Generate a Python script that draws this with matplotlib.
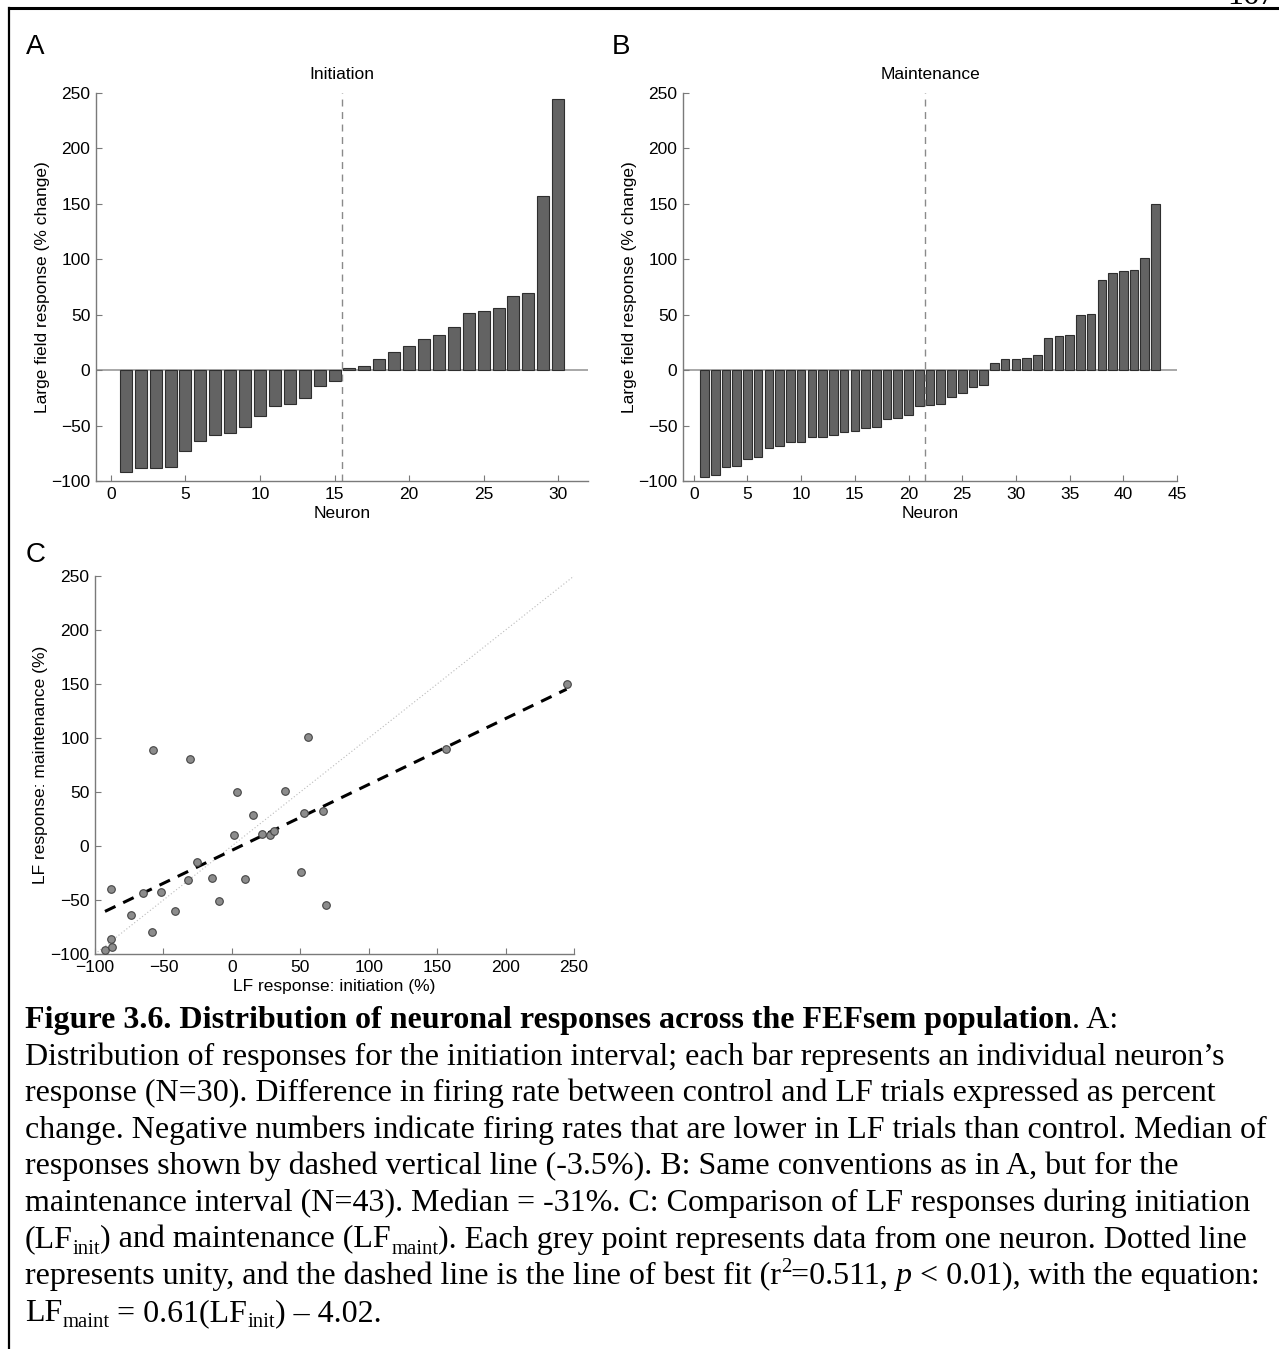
import numpy as np
import matplotlib
matplotlib.use("Agg")
import matplotlib.pyplot as plt
from matplotlib.lines import Line2D
from matplotlib.transforms import IdentityTransform

W, H = 1279, 1349

# panel A: initiation interval, % change per neuron (sorted)
init_resp = [-92.3, -88.7, -88.7, -87.8, -73.0, -64.3, -58.2, -57.0, -51.6, -41.0,
             -32.6, -30.2, -25.0, -14.2, -9.4, 2.1, 3.9, 10.3, 16.0, 22.0,
             28.4, 31.4, 39.2, 51.3, 53.4, 56.1, 67.3, 69.4, 157.5, 244.6]
init_median_pos = 15.5

# panel B: maintenance interval
maint_resp = [-96.8, -94.7, -87.8, -86.9, -80.5, -78.7, -70.6, -68.8, -64.6, -64.6,
              -60.3, -60.3, -58.5, -55.5, -54.6, -52.5, -51.6, -44.3, -43.1, -40.4,
              -32.6, -31.7, -30.5, -24.1, -20.8, -15.1, -13.3, 6.6, 10.0, 10.0,
              10.9, 13.9, 29.0, 30.8, 32.0, 50.1, 51.0, 81.1, 87.2, 89.0,
              89.9, 100.8, 150.2]
maint_median_pos = 21.5

# panel C: per-neuron initiation vs maintenance
sc_init = [-92.7, -87.6, -88.5, -88.5, -73.7, -58.5, -64.6, -51.7, -41.5, -57.6,
           -30.5, -32.4, -25.6, -14.4, -9.3, 9.5, 1.5, 3.7, 15.6, 21.7,
           27.8, 30.5, 38.8, 52.7, 55.6, 50.7, 66.6, 68.8, 156.8, 244.6]
sc_maint = [-96.0, -93.9, -85.9, -39.9, -64.0, -80.0, -43.6, -42.6, -60.0, 89.0,
            81.0, -31.9, -14.9, -29.7, -50.9, -30.9, 10.1, 50.2, 29.0, 11.4,
            10.1, 14.1, 51.1, 31.0, 101.0, -24.1, 32.3, -55.0, 90.0, 150.0]
fit_slope, fit_icpt = 0.61, -4.02

plt.rcParams["font.family"] = ["Liberation Sans", "DejaVu Sans"]
plt.rcParams["font.size"] = 12.5

SPINE = "#7a7a7a"
BAR = "#636363"
BAR_EDGE = "#2e2e2e"

fig = plt.figure(figsize=(W / 100, H / 100), dpi=100)


def px_axes(x0, y0, x1, y1):
    # pixel box (top-left origin) -> axes
    return fig.add_axes([x0 / W, 1 - y1 / H, (x1 - x0) / W, (y1 - y0) / H])


def style(ax):
    for s in ["top", "right"]:
        ax.spines[s].set_visible(False)
    for s in ["left", "bottom"]:
        ax.spines[s].set_color(SPINE)
        ax.spines[s].set_linewidth(1.0)
    ax.tick_params(direction="in", length=4, width=0.8, color=SPINE,
                   labelsize=12.5, pad=4)


def bar_panel(ax, vals, med, xmax, xticks, title):
    n = np.arange(1, len(vals) + 1)
    ax.axhline(0, color="#999999", lw=1.2, zorder=1)
    ax.bar(n, vals, width=0.8, color=BAR, edgecolor=BAR_EDGE, linewidth=0.8, zorder=2)
    ax.axvline(med, color="#8a8a8a", lw=1.0, ls=(0, (5, 4)), zorder=3)
    ax.set_xlim(-1, xmax)
    ax.set_ylim(-100, 250)
    ax.set_xticks(xticks)
    ax.set_yticks(np.arange(-100, 251, 50))
    ax.set_xlabel("Neuron", labelpad=3)
    ax.set_ylabel("Large field response (% change)", labelpad=1)
    ax.set_title(title, fontsize=12.5, pad=10)
    style(ax)


axA = px_axes(96, 93, 588, 481)
bar_panel(axA, init_resp, init_median_pos, 32, np.arange(0, 31, 5), "Initiation")

axB = px_axes(683, 93, 1177, 481)
bar_panel(axB, maint_resp, maint_median_pos, 45, np.arange(0, 46, 5), "Maintenance")

axC = px_axes(95, 576, 574, 954)
lim = [-100, 250]
axC.plot(lim, lim, color="#bbbbbb", lw=0.8, ls=(0, (1, 2)), zorder=1)
xf = np.array([min(sc_init), max(sc_init)])
axC.plot(xf, fit_slope * xf + fit_icpt, color="black", lw=2.2, ls=(0, (3.8, 2.8)), zorder=2)
axC.scatter(sc_init, sc_maint, s=30, color="#8c8c8c", edgecolor="#444444",
            linewidth=0.8, zorder=3)
axC.set_xlim(lim)
axC.set_ylim(lim)
axC.set_xticks(np.arange(-100, 251, 50))
axC.set_yticks(np.arange(-100, 251, 50))
axC.set_xlabel("LF response: initiation (%)", labelpad=3)
axC.set_ylabel("LF response: maintenance (%)", labelpad=2)
style(axC)

# panel letters
for lbl, x, y in [("A", 35, 47), ("B", 621, 47), ("C", 36, 555)]:
    fig.text(x / W, 1 - y / H, lbl, fontsize=20, ha="center", va="center")

# page frame and page number
fig.add_artist(Line2D([9 / W, 1], [1 - 8 / H, 1 - 8 / H], color="black", lw=2.2))
fig.add_artist(Line2D([9 / W, 9 / W], [0, 1 - 8 / H], color="black", lw=1.6))
fig.text(1275 / W, 1 - 4 / H, "167", family="Liberation Serif", fontsize=23,
         ha="right", va="baseline")

# caption, drawn segment by segment
CAP = 23
renderer = fig.canvas.get_renderer()


def seg_props(kind):
    p = dict(family="Liberation Serif", fontsize=CAP)
    if kind == "b":
        p["weight"] = "bold"
    elif kind == "i":
        p["style"] = "italic"
    elif kind in ("sub", "sup"):
        p["fontsize"] = CAP * 0.65
    return p


def text_width(s, props):
    t1 = fig.text(0, 0, s + "x", transform=IdentityTransform(), **props)
    t2 = fig.text(0, 0, "x", transform=IdentityTransform(), **props)
    w = t1.get_window_extent(renderer).width - t2.get_window_extent(renderer).width
    t1.remove()
    t2.remove()
    return w


def rich_line(x, y_top, segs):
    base = H - y_top
    for s, kind in segs:
        props = seg_props(kind)
        yy = base
        if kind == "sub":
            yy = base - 6
        elif kind == "sup":
            yy = base + 12
        fig.text(x, yy, s, transform=IdentityTransform(), ha="left", va="baseline", **props)
        x += text_width(s, props)


caption = [
    [("Figure 3.6. Distribution of neuronal responses across the FEFsem population", "b"),
     (". A:", "n")],
    [("Distribution of responses for the initiation interval; each bar represents an individual neuron\u2019s", "n")],
    [("response (N=30). Difference in firing rate between control and LF trials expressed as percent", "n")],
    [("change. Negative numbers indicate firing rates that are lower in LF trials than control. Median of", "n")],
    [("responses shown by dashed vertical line (-3.5%). B: Same conventions as in A, but for the", "n")],
    [("maintenance interval (N=43). Median = -31%. C: Comparison of LF responses during initiation", "n")],
    [("(LF", "n"), ("init", "sub"), (") and maintenance (LF", "n"), ("maint", "sub"),
     ("). Each grey point represents data from one neuron. Dotted line", "n")],
    [("represents unity, and the dashed line is the line of best fit (r", "n"), ("2", "sup"),
     ("=0.511, ", "n"), ("p", "i"), (" < 0.01), with the equation:", "n")],
    [("LF", "n"), ("maint", "sub"), (" = 0.61(LF", "n"), ("init", "sub"), (") \u2013 4.02.", "n")],
]
for i, segs in enumerate(caption):
    rich_line(25, 1028 + i * 36.6, segs)

fig.savefig("out.png", dpi=100)
